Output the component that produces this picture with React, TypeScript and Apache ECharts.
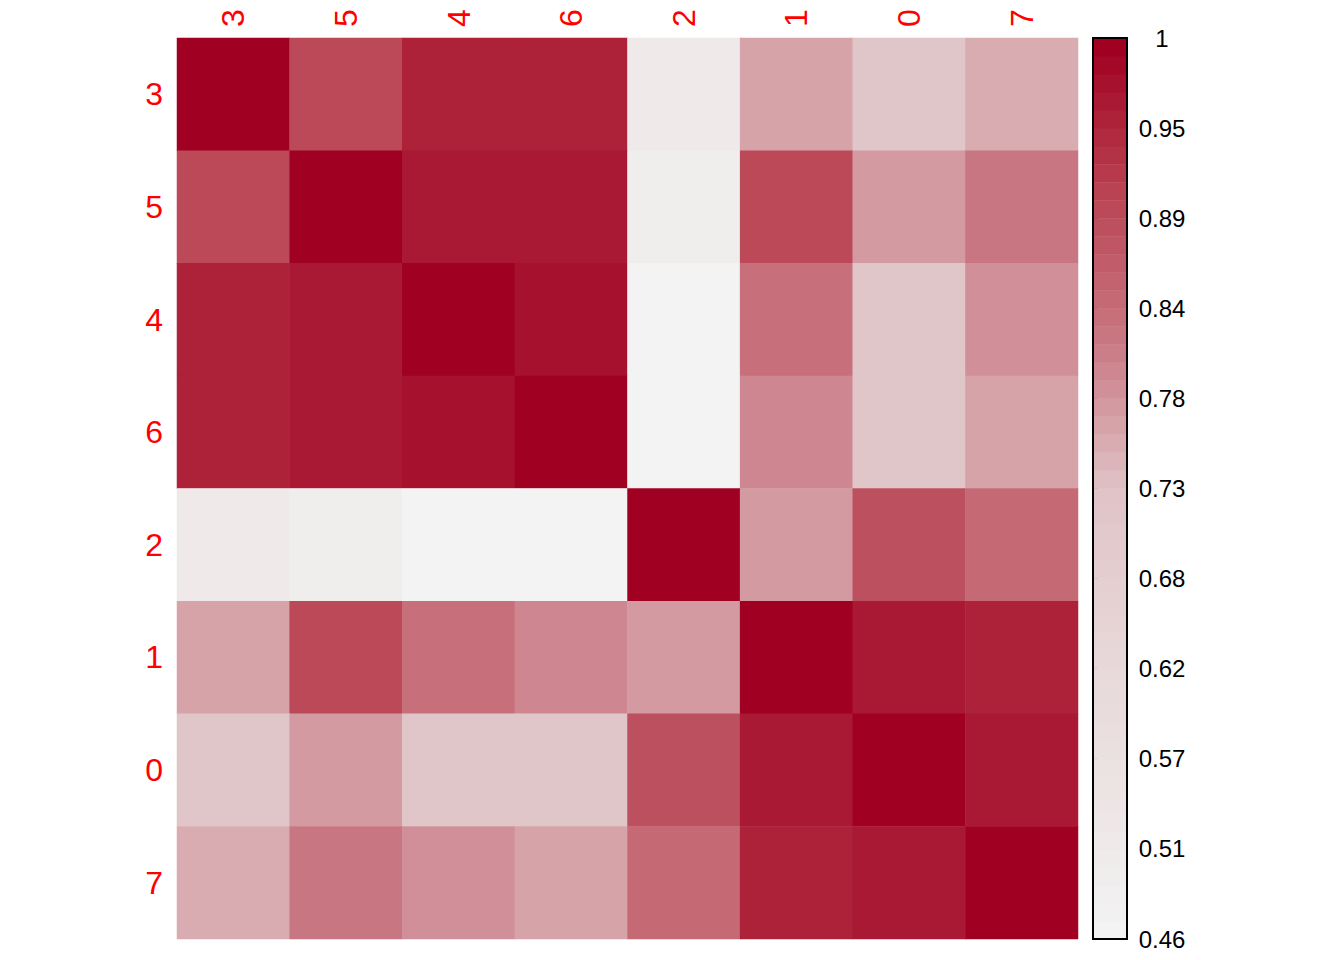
import React, { useEffect, useRef } from "react";
import * as echarts from "echarts";

// Variable order (same for rows and columns)
const LABELS = ["3", "5", "4", "6", "2", "1", "0", "7"];

// Correlation matrix, rows/cols in LABELS order
const ROW_3 = [1, 0.9, 0.95, 0.954, 0.52, 0.77, 0.71, 0.756];
const ROW_5 = [0.9, 1, 0.958, 0.963, 0.5, 0.896, 0.78, 0.82];
const ROW_4 = [0.95, 0.958, 1, 0.973, 0.465, 0.829, 0.71, 0.785];
const ROW_6 = [0.954, 0.963, 0.973, 1, 0.465, 0.8, 0.71, 0.77];
const ROW_2 = [0.52, 0.5, 0.465, 0.465, 1, 0.78, 0.89, 0.84];
const ROW_1 = [0.77, 0.896, 0.829, 0.8, 0.78, 1, 0.96, 0.954];
const ROW_0 = [0.71, 0.78, 0.71, 0.71, 0.89, 0.96, 1, 0.965];
const ROW_7 = [0.756, 0.82, 0.785, 0.77, 0.84, 0.954, 0.965, 1];
const CORR = [ROW_3, ROW_5, ROW_4, ROW_6, ROW_2, ROW_1, ROW_0, ROW_7];

// Colour scale
const COLOR_MIN = 0.46;
const COLOR_MAX = 1;
const BAND_COUNT = 50;
const TICK_LABELS = ["0.46", "0.51", "0.57", "0.62", "0.68", "0.73", "0.78", "0.84", "0.89", "0.95", "1"];
const COLOR_STOPS = ["#F3F3F3", "#ECE3E3", "#E6D5D6", "#E0C3C6", "#C97883", "#BA4453", "#A00021"];

export default function App() {
  const ref = useRef<HTMLDivElement>(null);

  useEffect(() => {
    if (!ref.current) return;
    const chart = echarts.init(ref.current, null, { renderer: "svg" });

    const heatData: number[][] = [];
    CORR.forEach((row, r) => row.forEach((v, c) => heatData.push([c, r, v])));

    const tickCount = TICK_LABELS.length - 1;
    const toUnit = (v: number) => ((v - COLOR_MIN) / (COLOR_MAX - COLOR_MIN)) * tickCount;
    const step = (COLOR_MAX - COLOR_MIN) / BAND_COUNT;
    const bandData = Array.from({ length: BAND_COUNT }, (_, i) => {
      const lo = COLOR_MIN + i * step;
      const hi = lo + step;
      return [toUnit(lo), toUnit(hi), lo + step / 2];
    });

    chart.setOption({
      animation: false,
      backgroundColor: "#ffffff",
      textStyle: { fontFamily: "Liberation Sans, Arial, sans-serif" },
      grid: [
        { left: 177, top: 38, width: 901, height: 901 },
        {
          left: 1093,
          top: 38,
          width: 34,
          height: 901,
          show: true,
          borderColor: "#000",
          borderWidth: 2,
          backgroundColor: "transparent",
          z: 10,
        },
      ],
      xAxis: [
        {
          type: "category",
          gridIndex: 0,
          data: LABELS,
          position: "top",
          axisLine: { show: false },
          axisTick: { show: false },
          splitLine: { show: false },
          axisLabel: { rotate: -90, color: "#FF0000", fontSize: 32, margin: 11 },
        },
        {
          type: "value",
          gridIndex: 1,
          min: 0,
          max: 1,
          show: false,
        },
      ],
      yAxis: [
        {
          type: "category",
          gridIndex: 0,
          data: LABELS,
          inverse: true,
          axisLine: { show: false },
          axisTick: { show: false },
          splitLine: { show: false },
          axisLabel: { color: "#FF0000", fontSize: 32, margin: 14, padding: [0, 0, 4, 0] },
        },
        {
          type: "value",
          gridIndex: 1,
          min: 0,
          max: tickCount,
          interval: 1,
          position: "right",
          axisLine: { show: false },
          splitLine: { show: false },
          axisTick: { show: true, length: 5, lineStyle: { color: "#000", width: 1.5 } },
          axisLabel: {
            color: "#000",
            fontSize: 24,
            margin: 35,
            align: "center",
            formatter: (v: number) => TICK_LABELS[Math.round(v)] ?? "",
          },
        },
      ],
      visualMap: {
        type: "piecewise",
        show: false,
        min: COLOR_MIN,
        max: COLOR_MAX,
        splitNumber: BAND_COUNT,
        dimension: 2,
        seriesIndex: [0, 1],
        inRange: { color: COLOR_STOPS },
      },
      series: [
        {
          type: "heatmap",
          xAxisIndex: 0,
          yAxisIndex: 0,
          data: heatData,
          itemStyle: { borderWidth: 0 },
          emphasis: { disabled: true },
        },
        {
          type: "custom",
          xAxisIndex: 1,
          yAxisIndex: 1,
          data: bandData,
          encode: { x: -1, y: [0, 1] },
          renderItem: (params: any, api: any) => {
            const lo = api.value(0);
            const hi = api.value(1);
            const p1 = api.coord([0, hi]);
            const p2 = api.coord([1, lo]);
            const color = api.visual("color");
            return {
              type: "rect",
              shape: { x: p1[0], y: p1[1], width: p2[0] - p1[0], height: p2[1] - p1[1] },
              style: { fill: color, stroke: color, lineWidth: 0.5 },
            };
          },
        },
      ],
    });

    return () => chart.dispose();
  }, []);

  return (
    <div
      ref={ref}
      style={{ position: "fixed", left: 0, top: 0, width: 1344, height: 960 }}
    />
  );
}
